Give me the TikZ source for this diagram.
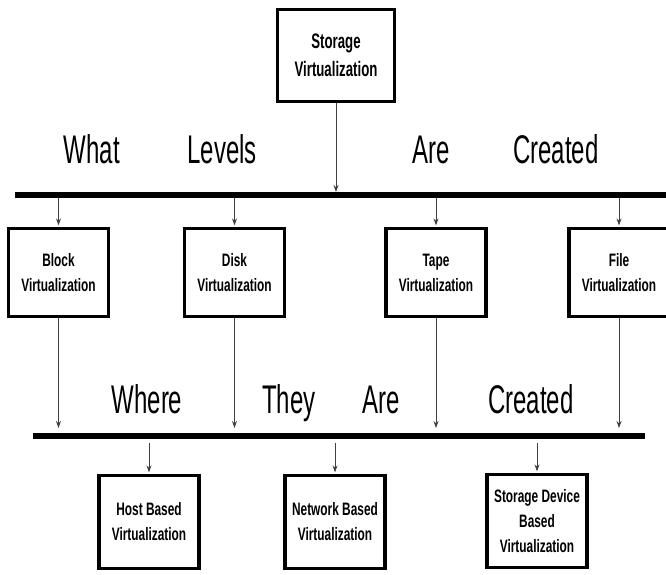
\documentclass[tikz,border=0pt]{standalone}
\usepackage{fontspec}
\setmainfont{Liberation Sans}
\newfontfamily\bigf[FakeStretch=0.6]{Liberation Sans}
\newfontfamily\boxf[FakeStretch=0.66]{Liberation Sans}
\newfontfamily\svf[FakeStretch=0.63]{Liberation Sans}
\usetikzlibrary{arrows.meta}
\tikzset{
  vbox/.style={draw, line width=3.2pt, minimum width=100pt, minimum height=88pt, align=center, inner sep=0pt,
    font=\boxf\bfseries\fontsize{18}{25}\selectfont},
  bigw/.style={font=\bigf\fontsize{40}{40}\selectfont, anchor=base, inner sep=0pt},
  hbar/.style={line width=6pt},
  arr/.style={-{Stealth[length=7pt,width=5pt]}, line width=0.9pt, draw=black!75},
}
\begin{document}
\begin{tikzpicture}[x=1pt,y=-1pt]
\useasboundingbox (0,0) rectangle (666,575);
% top box
\node[vbox, minimum width=117pt, minimum height=92pt, font=\svf\bfseries\fontsize{21}{28}\selectfont] (sv) at (336,55.5) {Storage\\Virtualization};
% top words
\node[bigw] (w1) at (92,163) {What};
\node[bigw] (w2) at (222,163) {Levels};
\node[bigw] (w3) at (431,163) {Are};
\node[bigw] (w4) at (556,163) {Created};
% top bar
\coordinate (tl) at (15,195);
\coordinate (tr) at (666,195);
\draw[hbar] (tl) -- (tr);
% level boxes
\node[vbox] (block) at (58.5,272.5) {Block\\Virtualization};
\node[vbox] (disk) at (234.5,272.5) {Disk\\Virtualization};
\node[vbox] (tape) at (436,272.5) {Tape\\Virtualization};
\node[vbox] (file) at (619,272.5) {File\\Virtualization};
% bottom words
\node[bigw] (b1) at (147,413) {Where};
\node[bigw] (b2) at (289,413) {They};
\node[bigw] (b3) at (381,413) {Are};
\node[bigw] (b4) at (531,413) {Created};
% bottom bar
\coordinate (bl) at (33,436);
\coordinate (br) at (645,436);
\draw[hbar] (bl) -- (br);
% bottom boxes
\node[vbox, minimum height=93pt] (host) at (149,522) {Host Based\\Virtualization};
\node[vbox, minimum height=93pt] (net) at (335,522) {Network Based\\Virtualization};
\node[vbox, minimum height=93pt] (sdb) at (537,521) {Storage Device\\Based\\Virtualization};
% connectors
\draw[arr, shorten >=3pt] (sv.south) -- (sv.south |- tl);
\foreach \n in {block,disk,tape,file}{
  \draw[arr, shorten <=3pt, shorten >=1.5pt] (\n.north |- tl) -- (\n.north);
  \draw[arr, shorten >=8pt] (\n.south) -- (\n.south |- bl);
}
\foreach \n in {host,net,sdb}{
  \draw[arr, shorten <=7pt, shorten >=1.5pt] (\n.north |- bl) -- (\n.north);
}
\end{tikzpicture}
\end{document}
